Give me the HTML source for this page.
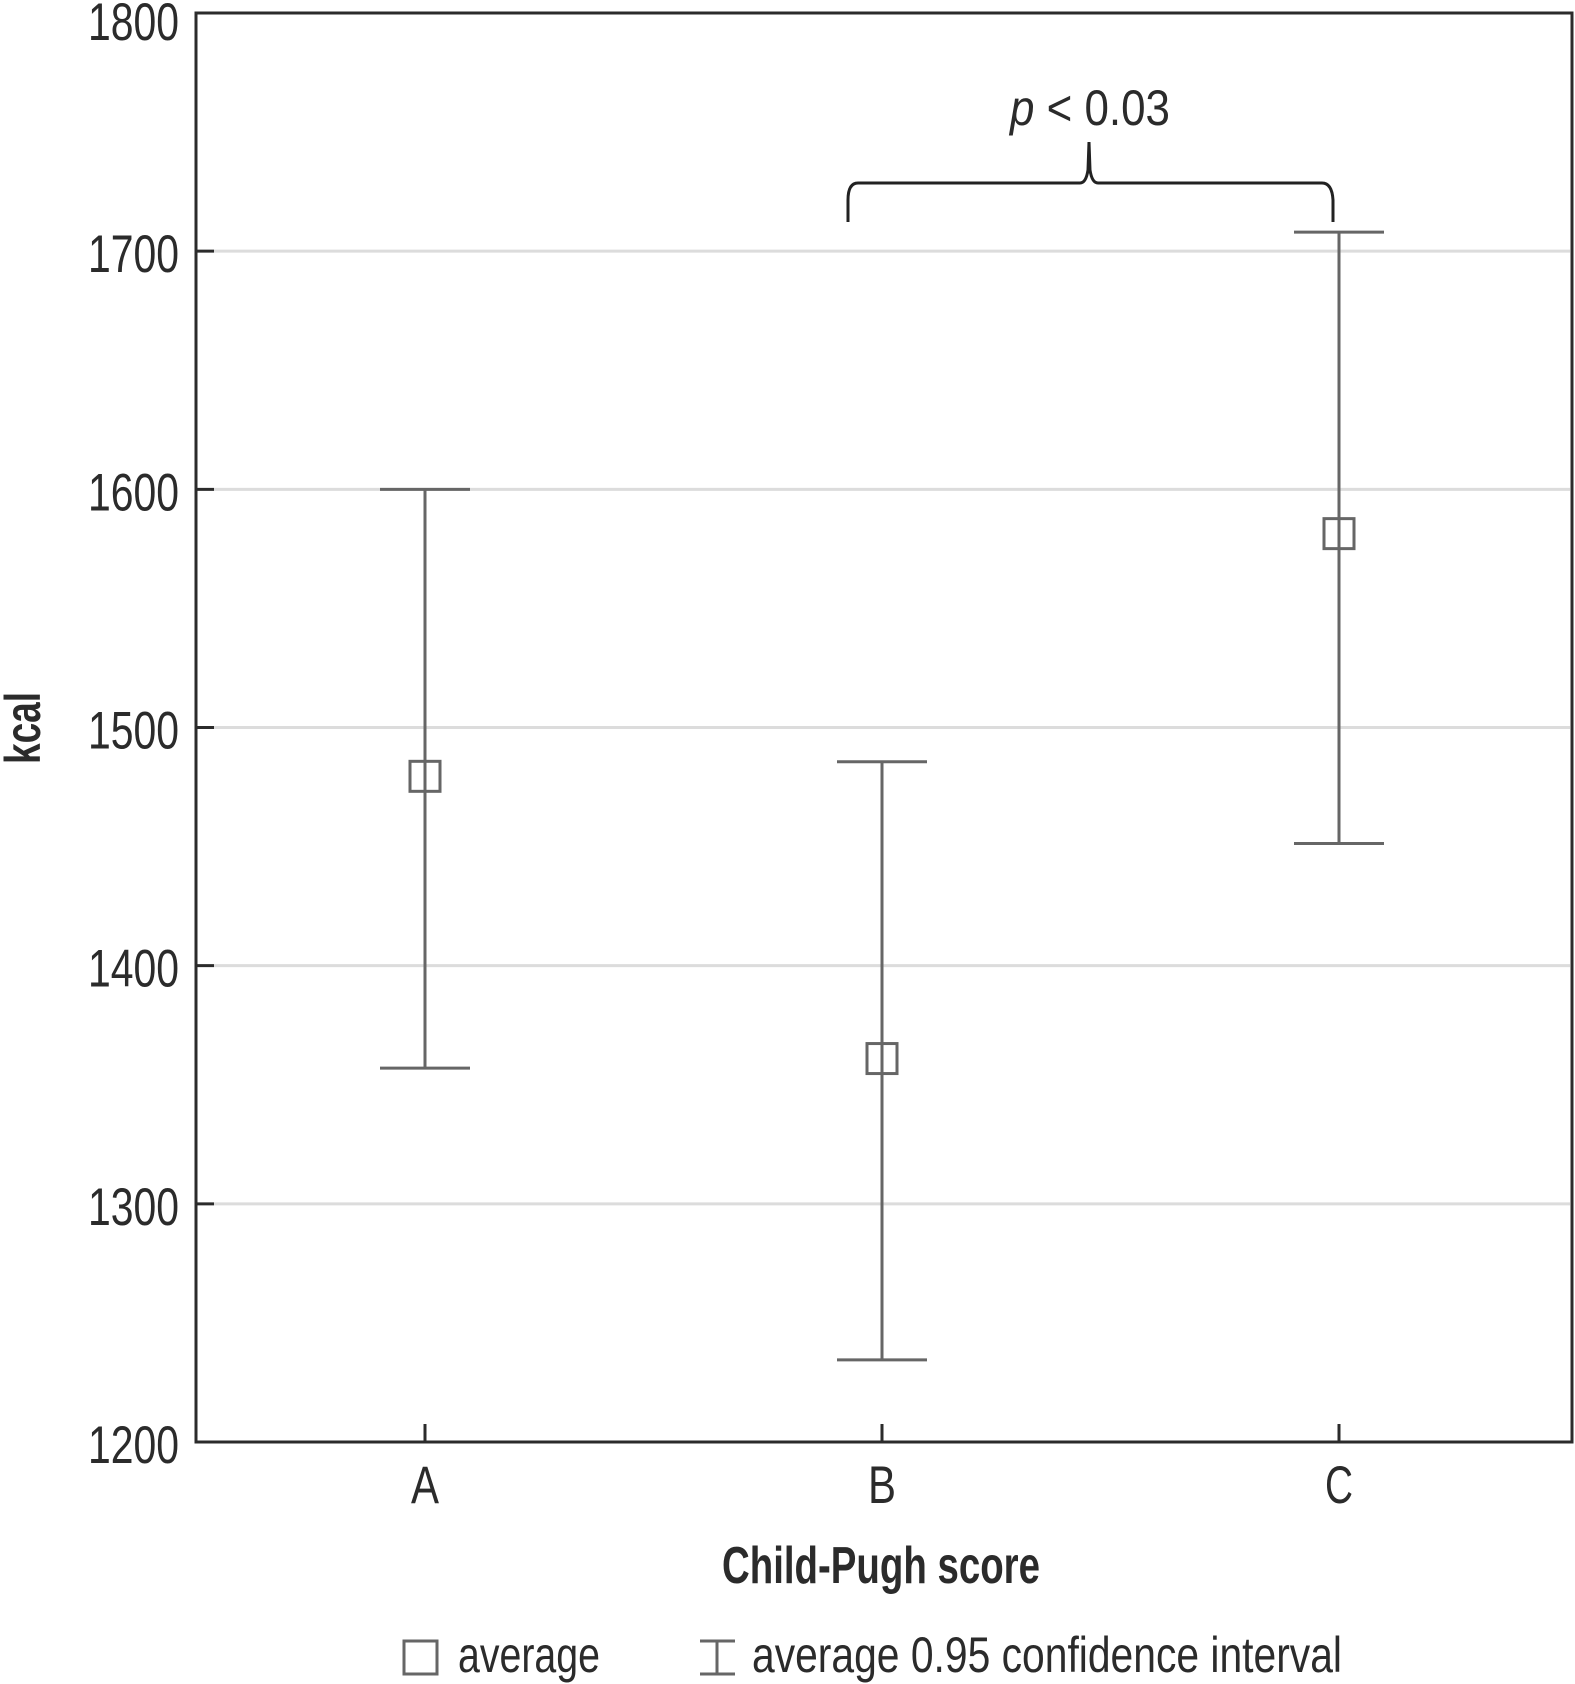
<!DOCTYPE html>
<html><head><meta charset="utf-8"><style>
html,body{margin:0;padding:0;background:#fff;}
svg{display:block;}
text{font-family:"Liberation Sans Narrow","Liberation Sans",sans-serif;fill:#2b2b2b;}
</style></head><body>
<svg id="chart" width="1575" height="1684" viewBox="0 0 1575 1684" xmlns="http://www.w3.org/2000/svg">
<g id="grid"></g>
<g id="yaxis"></g>
<g id="xaxis"></g>
<g id="series"></g>
<rect x="196" y="13" width="1376" height="1429" fill="none" stroke="#2b2b2b" stroke-width="3"/>
<g>
<path d="M848,222 L848,200 Q848,183 858,183 L1080,183 Q1086,183 1088,170 L1089,142 L1090,170 Q1092,183 1098,183 L1322,183 Q1332,183 1333,200 L1333,222" fill="none" stroke="#222" stroke-width="3"/>
<text x="1090" y="125" font-size="50" text-anchor="middle" textLength="160" lengthAdjust="spacingAndGlyphs"><tspan font-style="italic">p</tspan> &lt; 0.03</text>
</g>
<text transform="translate(40,728) rotate(-90)" font-size="50" font-weight="bold" text-anchor="middle" textLength="72" lengthAdjust="spacingAndGlyphs">kcal</text>
<text x="881" y="1583" font-size="52" font-weight="bold" text-anchor="middle" textLength="318" lengthAdjust="spacingAndGlyphs">Child-Pugh score</text>
<g>
<rect x="404" y="1641" width="33" height="33" fill="none" stroke="#666" stroke-width="3"/>
<text x="458" y="1672" font-size="50" textLength="142" lengthAdjust="spacingAndGlyphs">average</text>
<path d="M700,1641 H735 M717,1641 V1674 M700,1674 H735" stroke="#666" stroke-width="3" fill="none"/>
<text x="752" y="1672" font-size="50" textLength="590" lengthAdjust="spacingAndGlyphs">average 0.95 confidence interval</text>
</g>
</svg>
<script>
const categories = ["A", "B", "C"];
const means = [1479.5, 1361, 1581.4];
const lowers = [1357, 1234.5, 1451.3];
const uppers = [1600, 1485.6, 1708];
const yTicks = [1200, 1300, 1400, 1500, 1600, 1700, 1800];

const NS = "http://www.w3.org/2000/svg";
const y = v => 1442 - (v - 1200) * (1429 / 600);
const x = i => 425 + i * 457;
function mk(tag, attrs, parent) {
  const e = document.createElementNS(NS, tag);
  for (const k in attrs) e.setAttribute(k, attrs[k]);
  parent.appendChild(e);
  return e;
}
const grid = document.getElementById('grid');
const yaxis = document.getElementById('yaxis');
const xaxis = document.getElementById('xaxis');
const series = document.getElementById('series');

yTicks.forEach(t => {
  if (t > 1200 && t < 1800) {
    const g = mk('line', {x1: 214, x2: 1570, y1: y(t), y2: y(t), stroke: '#dcdcdc', 'stroke-width': 3}, grid);
    
    
    const tk = mk('line', {x1: 196, x2: 214, y1: y(t), y2: y(t), stroke: '#2b2b2b', 'stroke-width': 3}, yaxis);
    
    
  }
  const lb = mk('text', {x: 179, y: Math.max(y(t) + 21, 40), 'font-size': 53, 'text-anchor': 'end', textLength: 91, lengthAdjust: 'spacingAndGlyphs'}, yaxis);
  
  
  lb.textContent = t;
});

categories.forEach((c, i) => {
  const tk = mk('line', {x1: x(i), x2: x(i), y1: 1424, y2: 1442, stroke: '#2b2b2b', 'stroke-width': 3}, xaxis);
  
  
  const lb = mk('text', {x: x(i), y: 1503, 'font-size': 53, 'text-anchor': 'middle', textLength: 28, lengthAdjust: 'spacingAndGlyphs'}, xaxis);
  
  
  lb.textContent = c;

  const g = mk('g', {}, series);
  
  
  const st = {stroke: '#666', 'stroke-width': 3, fill: 'none'};
  mk('line', Object.assign({x1: x(i), x2: x(i), y1: y(uppers[i]), y2: y(lowers[i])}, st), g);
  mk('line', Object.assign({x1: x(i) - 45, x2: x(i) + 45, y1: y(uppers[i]), y2: y(uppers[i])}, st), g);
  mk('line', Object.assign({x1: x(i) - 45, x2: x(i) + 45, y1: y(lowers[i]), y2: y(lowers[i])}, st), g);
  const m = mk('rect', Object.assign({x: x(i) - 15, y: y(means[i]) - 15, width: 30, height: 30}, st), g);
  
  
});
</script>
</body></html>
